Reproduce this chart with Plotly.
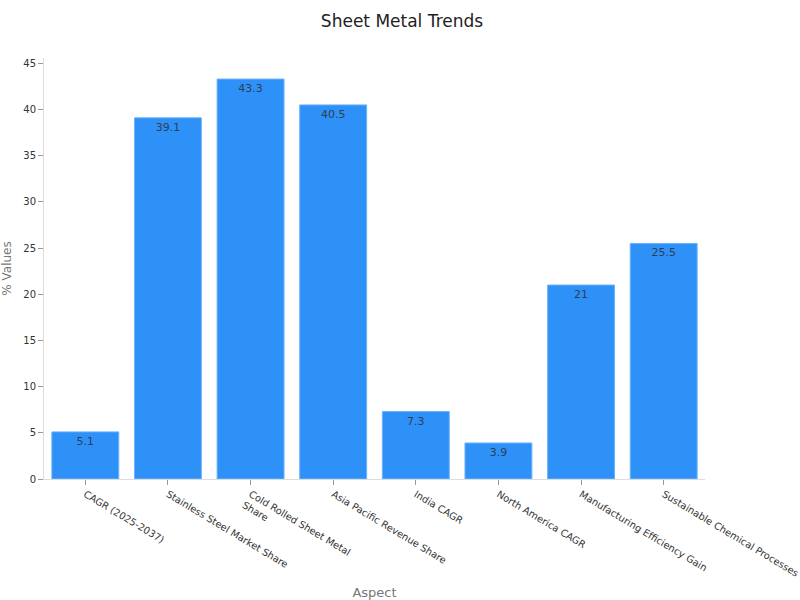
import plotly.graph_objects as go

aspects = [
    "CAGR (2025-2037)",
    "Stainless Steel Market Share",
    "Cold Rolled Sheet Metal<br>Share",
    "Asia Pacific Revenue Share",
    "India CAGR",
    "North America CAGR",
    "Manufacturing Efficiency Gain",
    "Sustainable Chemical Processes",
]
values = [5.1, 39.1, 43.3, 40.5, 7.3, 3.9, 21, 25.5]

fig = go.Figure()
fig.add_trace(go.Bar(
    x=aspects,
    y=values,
    text=[str(v) for v in values],
    textposition="inside",
    insidetextanchor="end",
    textfont=dict(color="#2f3e55", size=11),
    marker=dict(color="#2e91f8", line=dict(color="#6db3fb", width=1)),
))

fig.update_layout(
    title=dict(text="Sheet Metal Trends", x=0.5025, xanchor="center", y=0.975,
               yanchor="top", font=dict(size=17, color="#222")),
    font=dict(family="DejaVu Sans", size=10, color="#333"),
    plot_bgcolor="white",
    paper_bgcolor="white",
    width=800,
    height=600,
    margin=dict(l=44, r=95, t=58, b=121),
    bargap=0.19,
    showlegend=False,
)
fig.update_xaxes(
    title=dict(text="Aspect", font=dict(size=13, color="#777"), standoff=80),
    automargin=False,
    tickangle=31,
    tickfont=dict(size=9.8),
    showgrid=False,
    showline=True,
    linecolor="#dddddd",
    ticks="outside",
    tickcolor="#999",
    ticklen=5,
)
fig.update_yaxes(
    title=dict(text="% Values", font=dict(size=12, color="#777"), standoff=10),
    automargin=False,
    showgrid=False,
    zeroline=False,
    showline=True,
    linecolor="#dddddd",
    ticks="outside",
    tickcolor="#999",
    ticklen=5,
    dtick=5,
)

# drop the page's default body margin so the 800x600 figure fills the window
fig.write_html("out.html", config={"displayModeBar": False},
               post_script="document.body.style.margin='0';")
